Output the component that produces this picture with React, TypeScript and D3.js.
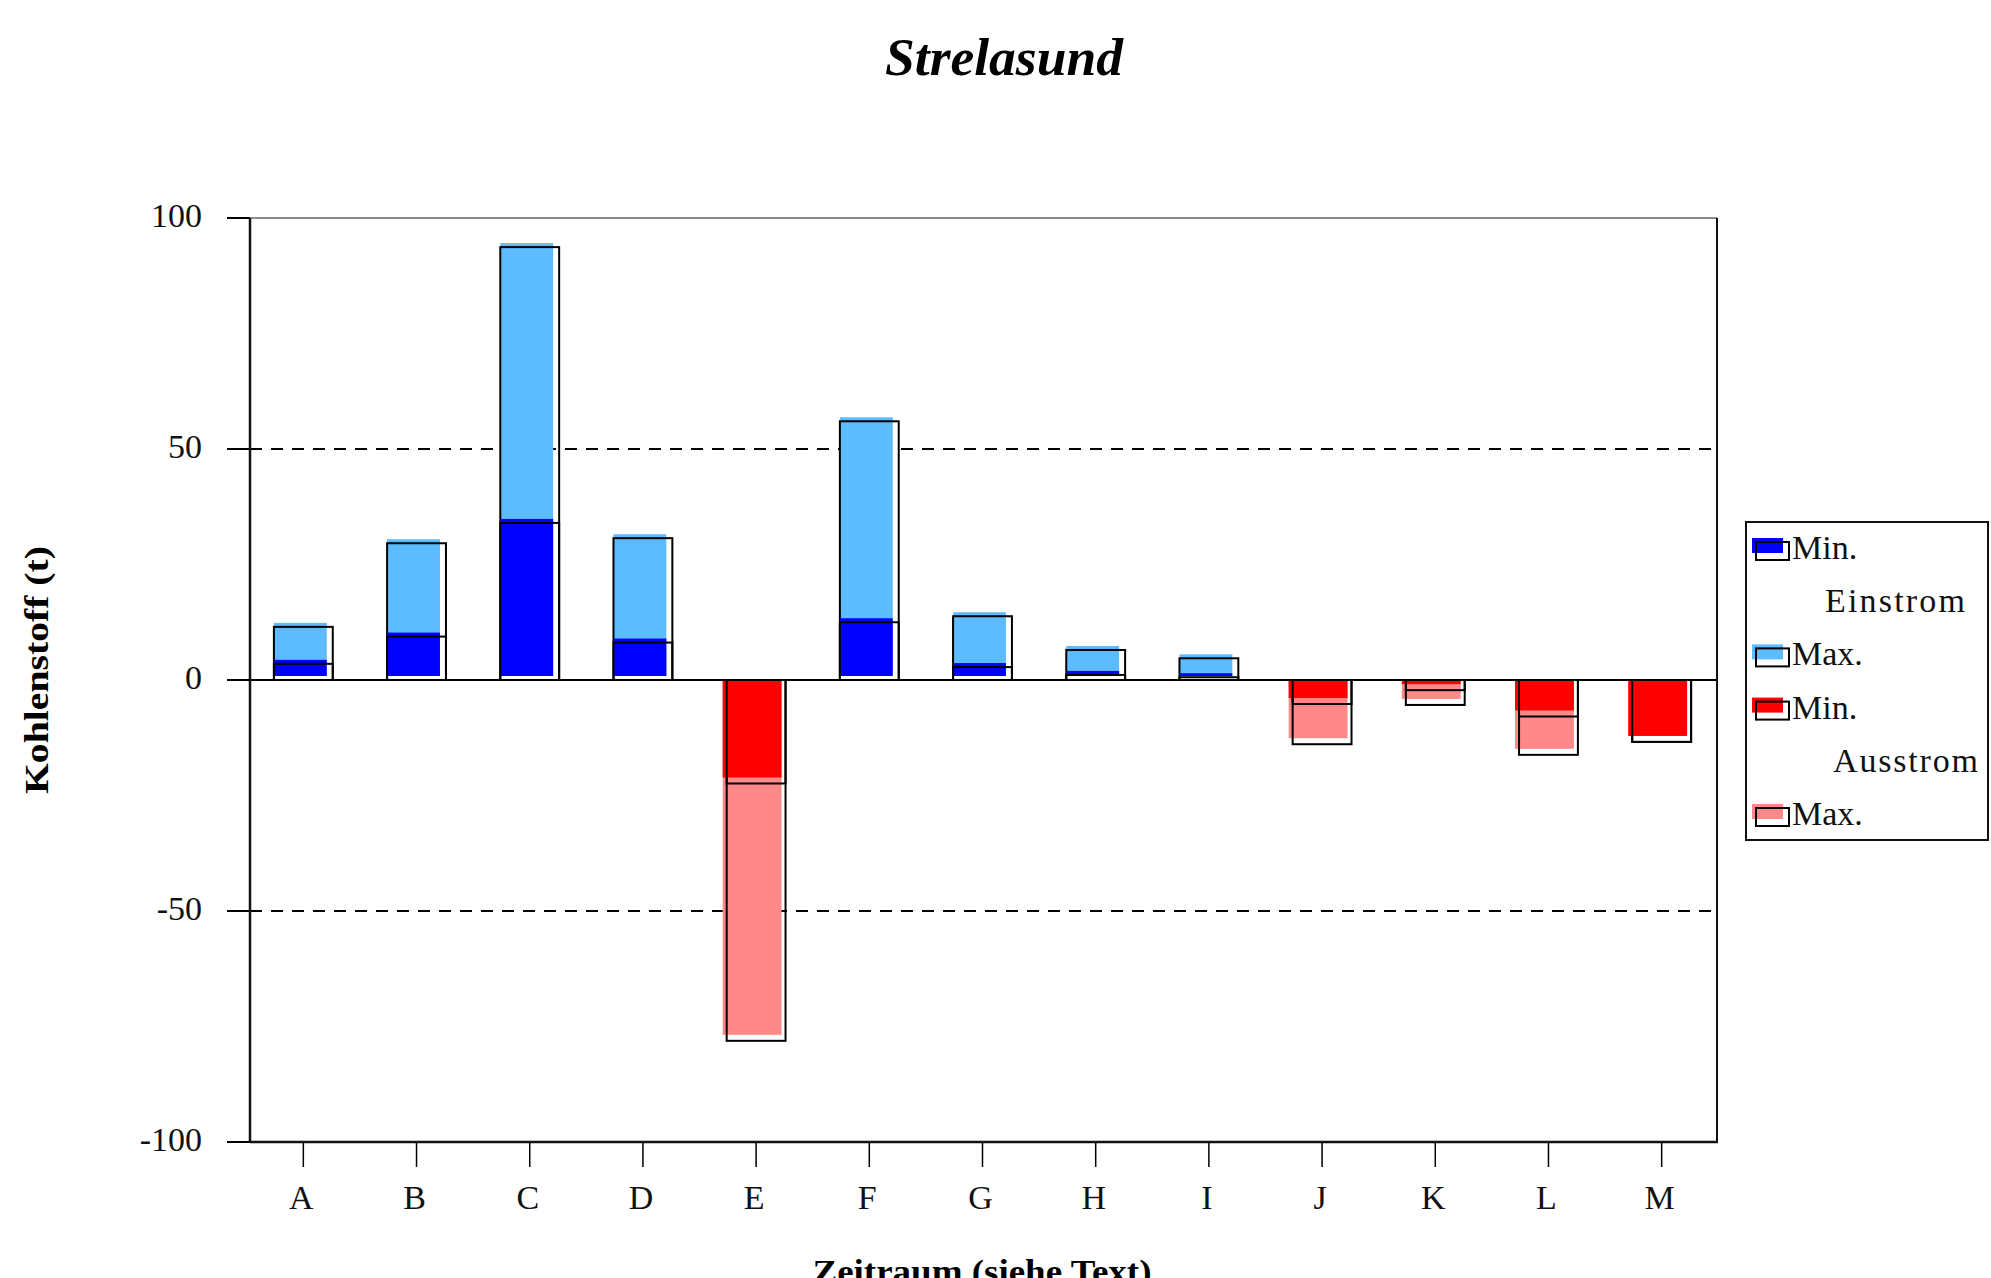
import React from 'react';
import * as d3 from 'd3';

const categories = ['A', 'B', 'C', 'D', 'E', 'F', 'G', 'H', 'I', 'J', 'K', 'L', 'M'];
const einstromMin = [3.5, 9.4, 34.0, 8.1, 0, 12.5, 2.8, 1.1, 0.6, 0, 0, 0, 0];
const einstromMax = [11.5, 29.6, 93.7, 30.7, 0, 56.0, 13.8, 6.5, 4.7, 0, 0, 0, 0];
const ausstromMin = [0, 0, 0, 0, -22.4, 0, 0, 0, 0, -5.2, -2.2, -7.9, -13.4];
const ausstromMax = [0, 0, 0, 0, -78.1, 0, 0, 0, 0, -13.9, -5.4, -16.2, -13.4];
const yTicks = [100, 50, 0, -50, -100];
const gridValues = [50, -50];
const legendLines = ['Min.', 'Einstrom', 'Max.', 'Min.', 'Ausstrom', 'Max.'];
const legendSwatches = ['#0000ff', null, '#5cbcff', '#ff0000', null, '#ff8888'];

const COLORS = { eMin: '#0000ff', eMax: '#5cbcff', aMin: '#ff0000', aMax: '#ff8888' };
const FONT = '"Liberation Serif", "Times New Roman", serif';

const W = 1991;
const H = 1278;
const plot = { left: 250, right: 1717, top: 218, bottom: 1142 };

export default function App() {
  const x = d3
    .scaleBand<string>()
    .domain(categories)
    .range([plot.left, plot.right])
    .paddingInner(0.48)
    .paddingOuter(0.22);
  const y = d3.scaleLinear().domain([-100, 100]).range([plot.bottom, plot.top]);
  const bw = x.bandwidth();
  const y0 = y(0);

  const bar = (cat: string, v: number, color: string, key: string) => {
    if (!v) return null;
    const x0 = (x(cat) as number) - 1;
    if (v > 0) {
      const top = y(v);
      return (
        <g key={key}>
          <rect x={x0} y={top - 4} width={bw - 6} height={y0 - top} fill={color} />
          <rect x={x0} y={top} width={bw} height={y0 - top} fill="none" stroke="#000" strokeWidth={2} />
        </g>
      );
    }
    const bottom = y(v);
    return (
      <g key={key}>
        <rect x={x0 - 4} y={y0} width={bw} height={Math.max(0, bottom - 6 - y0)} fill={color} />
        <rect x={x0} y={y0} width={bw} height={bottom - y0} fill="none" stroke="#000" strokeWidth={2} />
      </g>
    );
  };

  const legendX = 1746;
  const legendY = 522;
  const legendBase0 = 559;
  const legendStep = 53.2;

  return (
    <svg
      width={W}
      height={H}
      viewBox={`0 0 ${W} ${H}`}
      style={{ position: 'absolute', left: 0, top: 0, display: 'block', background: '#fff' }}
      fontFamily={FONT}
    >
      <rect x={0} y={0} width={W} height={H} fill="#fff" />
      {/* Title */}
      <text
        x={1004}
        y={75}
        textAnchor="middle"
        fontSize={53}
        fontWeight="bold"
        fontStyle="italic"
        textLength={238}
        lengthAdjust="spacingAndGlyphs"
      >
        Strelasund
      </text>

      {/* grid lines */}
      {gridValues.map((g) => (
        <line
          key={'g' + g}
          x1={plot.left}
          x2={plot.right}
          y1={y(g)}
          y2={y(g)}
          stroke="#000"
          strokeWidth={2}
          strokeDasharray="12,9"
        />
      ))}

      {/* bars */}
      {categories.map((c, i) => (
        <g key={c}>
          {bar(c, einstromMax[i], COLORS.eMax, 'emax')}
          {bar(c, einstromMin[i], COLORS.eMin, 'emin')}
          {bar(c, ausstromMax[i], COLORS.aMax, 'amax')}
          {bar(c, ausstromMin[i], COLORS.aMin, 'amin')}
        </g>
      ))}

      {/* zero line */}
      <line x1={plot.left} x2={plot.right} y1={y0} y2={y0} stroke="#000" strokeWidth={2} />

      {/* frame */}
      <line x1={plot.left} x2={plot.right} y1={plot.top} y2={plot.top} stroke="#666" strokeWidth={1.5} />
      <line x1={plot.right} x2={plot.right} y1={plot.top} y2={plot.bottom} stroke="#111" strokeWidth={2} />
      <line x1={plot.left} x2={plot.left} y1={plot.top} y2={plot.bottom + 1} stroke="#111" strokeWidth={2.5} />
      <line x1={plot.left} x2={plot.right + 1} y1={plot.bottom} y2={plot.bottom} stroke="#111" strokeWidth={2.5} />

      {/* y ticks */}
      {yTicks.map((t) => (
        <g key={'yt' + t}>
          <line x1={227} x2={plot.left} y1={y(t)} y2={y(t)} stroke="#000" strokeWidth={2} />
          <text x={202} y={y(t) + 9} textAnchor="end" fontSize={34} fill="#111">
            {t}
          </text>
        </g>
      ))}

      {/* x ticks */}
      {categories.map((c) => {
        const cx = (x(c) as number) + bw / 2 - 1;
        return (
          <g key={'xt' + c}>
            <line x1={cx} x2={cx} y1={plot.bottom} y2={1167} stroke="#000" strokeWidth={1.5} />
            <text x={cx - 2} y={1209} textAnchor="middle" fontSize={34} fill="#111">
              {c}
            </text>
          </g>
        );
      })}

      {/* axis titles */}
      <text
        x={982}
        y={1283}
        textAnchor="middle"
        fontSize={34}
        fontWeight="bold"
        textLength={339}
        lengthAdjust="spacingAndGlyphs"
      >
        Zeitraum  (siehe Text)
      </text>
      <text
        transform={`translate(48, 670) rotate(-90)`}
        textAnchor="middle"
        fontSize={34}
        fontWeight="bold"
        textLength={248}
        lengthAdjust="spacingAndGlyphs"
      >
        Kohlenstoff (t)
      </text>

      {/* legend */}
      <rect x={legendX} y={legendY} width={242} height={318} fill="#fff" stroke="#111" strokeWidth={2} />
      {legendLines.map((label, i) => {
        const base = legendBase0 + i * legendStep;
        const sw = legendSwatches[i];
        if (sw) {
          return (
            <g key={'lg' + i}>
              <rect x={1752} y={base - 21} width={31} height={15} fill={sw} />
              <rect x={1756} y={base - 17} width={33} height={18} fill="none" stroke="#000" strokeWidth={2} />
              <text x={1792} y={base} fontSize={34} fill="#111">
                {label}
              </text>
            </g>
          );
        }
        const tx = label === 'Einstrom' ? 1825 : 1833;
        const tl = label === 'Einstrom' ? 140 : 145;
        return (
          <text key={'lg' + i} x={tx} y={base} fontSize={34} fill="#111" textLength={tl} lengthAdjust="spacing">
            {label}
          </text>
        );
      })}
    </svg>
  );
}
